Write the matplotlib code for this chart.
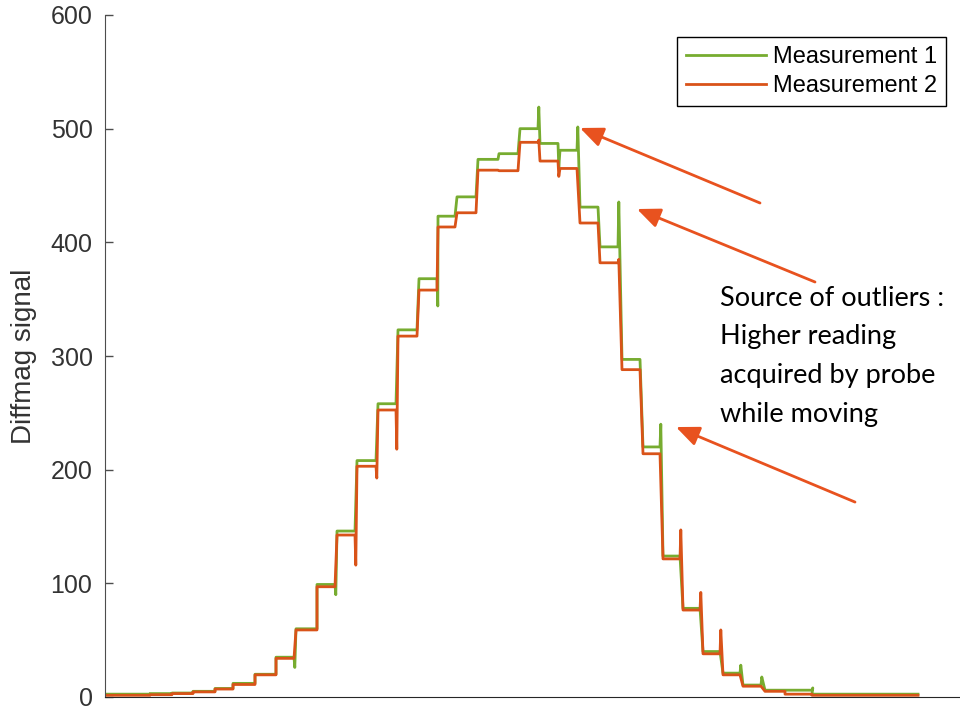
import numpy as np
import matplotlib.pyplot as plt

# Probe scan: each plateau is one probe position (sample range start/end)
step_start = [0, 45, 67, 88, 110, 128, 150, 171, 191, 212, 232, 252, 273, 293, 314, 333, 352,
              373, 394, 415, 435, 455, 475, 495, 517, 538, 558, 578, 598, 618, 638, 660, 680, 707]
step_end = [45, 67, 88, 110, 128, 150, 171, 189, 212, 230, 250, 271, 291, 312, 332, 350, 371,
            393, 413, 433, 453, 472, 493, 513, 535, 555, 575, 595, 615, 635, 656, 680, 707, 813]

# Plateau levels for the two measurements
meas1 = [2.5, 3, 3.5, 5, 7.5, 12, 20, 35, 60, 99, 146, 208, 258, 323, 368, 423, 440,
         473, 478, 500, 487, 481, 431, 396, 297, 220, 124, 78, 40, 21, 10.5, 6, 6, 2.5]
meas2 = [1.5, 2, 3, 4.5, 7, 11, 19.5, 34, 59, 97, 142.5, 203, 252.5, 317.5, 358, 413.5, 426,
         463.5, 463, 488, 471.5, 465, 417, 382, 288, 214, 121.5, 76.5, 38, 19.5, 9.5, 5, 2.5, 1.5]

# Readings taken while the probe moves to the next position (nan = none)
nan = np.nan
spike1 = [nan, nan, nan, nan, nan, nan, nan, 26, nan, 90, nan, nan, nan, nan, 344, nan, nan,
          nan, nan, 519, 466, 501.5, nan, 435.5, nan, 240, nan, nan, nan, 28, 17.6, nan, 8, nan]
spike2 = [nan, nan, nan, nan, nan, nan, nan, nan, nan, nan, 116, 192.6, 218, nan, nan, nan, nan,
          nan, nan, 490, 458, nan, nan, 385, nan, nan, 147, 92, 59, nan, nan, nan, nan, nan]


def build_trace(levels, spikes):
    xs, ys = [], []
    for s, e, lv, sp in zip(step_start, step_end, levels, spikes):
        xs += [s, e]
        ys += [lv, lv]
        if not np.isnan(sp):
            xs.append(e + 0.8)
            ys.append(sp)
    return np.array(xs), np.array(ys)


x1, y1 = build_trace(meas1, spike1)
x2, y2 = build_trace(meas2, spike2)

plt.rcParams['font.family'] = ['Liberation Sans', 'DejaVu Sans']

fig = plt.figure(figsize=(9.6, 7.14), dpi=100)
ax = fig.add_axes([105 / 960, 17 / 714, 855 / 960, 682 / 714])

ax.plot(x1, y1, color='#77AC30', lw=2, label='Measurement 1')
ax.plot(x2, y2, color='#D95319', lw=2, label='Measurement 2')

ax.set_xlim(0, 855)
ax.set_ylim(0, 600)
ax.set_yticks([0, 100, 200, 300, 400, 500, 600])
ax.set_xticks([])
ax.tick_params(axis='y', direction='in', length=6, width=1, color='#4d4d4d',
               labelsize=18, labelcolor='#333333', pad=9)
ax.spines['top'].set_visible(False)
ax.spines['right'].set_visible(False)
ax.spines['left'].set_color('#4d4d4d')
ax.spines['bottom'].set_color('#262626')
ax.set_ylabel('Diffmag signal', fontsize=20, color='#333333', labelpad=10)

leg = ax.legend(loc='upper right', bbox_to_anchor=(0.9836, 0.9677), borderaxespad=0,
                fontsize=17, handlelength=3.4, handletextpad=0.3, labelspacing=0.3,
                borderpad=0.38, fancybox=False, framealpha=1, edgecolor='black')
leg.get_frame().set_linewidth(1)

# Arrows pointing at the outlier readings
arrow_col = '#E8521F'
arrows = [((475, 500.6), (655, 434.6)),
          ((532, 429.3), (710, 365.1)),
          ((571, 237.5), (750, 171.5))]
for tip, tail in arrows:
    ax.annotate('', xy=tip, xytext=tail,
                arrowprops=dict(arrowstyle='-|>,head_length=0.7,head_width=0.3',
                                mutation_scale=20, color=arrow_col, lw=2,
                                shrinkA=0, shrinkB=0))

ax.text(0.719, 0.603, 'Source of outliers :\nHigher reading\nacquired by probe\nwhile moving',
        transform=ax.transAxes, ha='left', va='top', fontsize=19.5, family='Lato',
        linespacing=1.68, color='black')

fig.savefig('out.png', dpi=100)
